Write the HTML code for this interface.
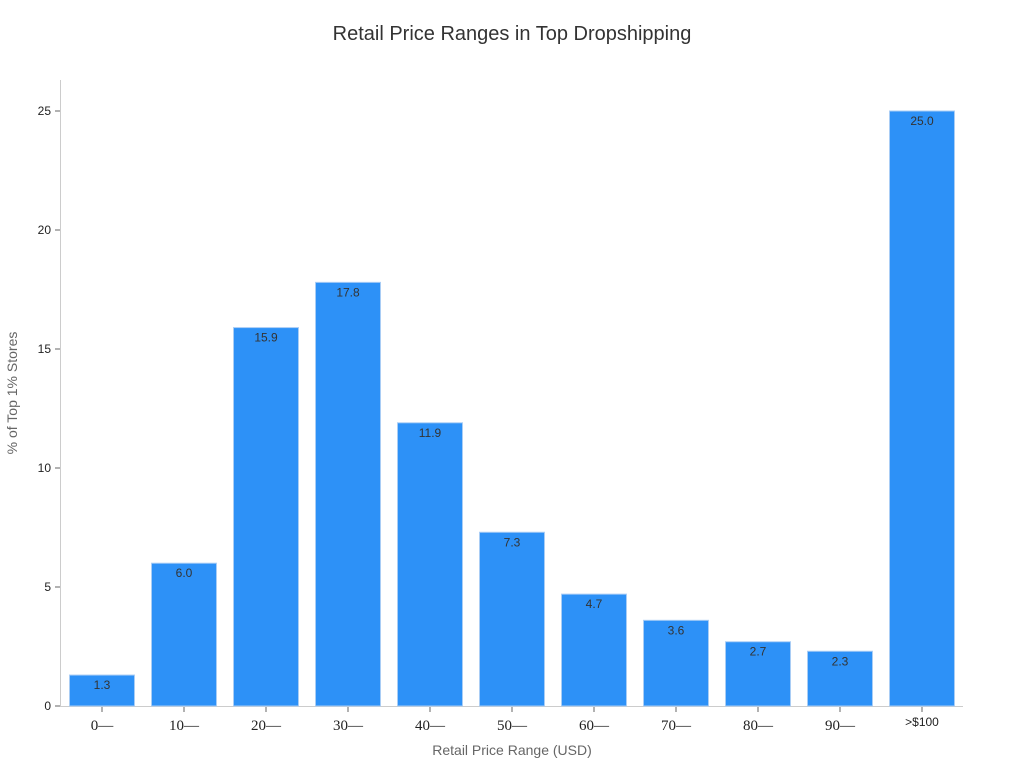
<!DOCTYPE html>
<html><head><meta charset="utf-8"><style>
body{margin:0;background:#fff;}
svg text{font-family:"Liberation Sans","DejaVu Sans",sans-serif;}
</style></head><body>
<svg id="chart" width="1024" height="768" xmlns="http://www.w3.org/2000/svg">
<text x="512" y="40" text-anchor="middle" font-size="20" fill="#333">Retail Price Ranges in Top Dropshipping</text>
<text x="512" y="755" text-anchor="middle" font-size="14" fill="#666">Retail Price Range (USD)</text>
<text transform="translate(17,393) rotate(-90)" text-anchor="middle" font-size="14" fill="#666">% of Top 1% Stores</text>
<line x1="60.5" y1="80" x2="60.5" y2="706" stroke="#ccc"/>
<line x1="60" y1="706.5" x2="963" y2="706.5" stroke="#ccc"/>
<g id="bars"></g>
</svg>
<script>
const categories=["0\u2014","10\u2014","20\u2014","30\u2014","40\u2014","50\u2014","60\u2014","70\u2014","80\u2014","90\u2014",">$100"];
const values=[1.3,6.0,15.9,17.8,11.9,7.3,4.7,3.6,2.7,2.3,25.0];
const yTicks=[0,5,10,15,20,25];
const svg=document.getElementById('chart');
const g=document.getElementById('bars');
const NS='http://www.w3.org/2000/svg';
const y0=706,pxPerUnit=(706-111)/25;
const yScale=v=>y0-v*pxPerUnit;
const xStart=61,band=82,barW=65;
const xCenter=i=>xStart+band*i+band/2;
function mk(tag,attrs){const e=document.createElementNS(NS,tag);for(const k in attrs)e.setAttribute(k,attrs[k]);return e;}
yTicks.forEach(t=>{
  const y=yScale(t);
  const l=mk('line',{x1:55,x2:60,y1:y,y2:y,stroke:'#666'});
  
  
  svg.appendChild(l);
  const tx=mk('text',{x:51,y:y+4,'text-anchor':'end','font-size':12,fill:'#222'});
  
  
  tx.textContent=t;svg.appendChild(tx);
});
categories.forEach((c,i)=>{
  const cx=xCenter(i),v=values[i],top=yScale(v);
  const r=mk('rect',{x:cx-barW/2,y:top,width:barW,height:y0-top,fill:'#2d91f7',stroke:'#a9cdf5','stroke-width':1});
  
  
  g.appendChild(r);
  const vl=mk('text',{x:cx,y:top+14,'text-anchor':'middle','font-size':12,fill:'#333'});
  
  
  vl.textContent=v.toFixed(1);g.appendChild(vl);
  const tm=mk('line',{x1:cx,x2:cx,y1:707,y2:712,stroke:'#666'});
  
  
  svg.appendChild(tm);
  const last=(i===categories.length-1);
  const xl=mk('text',{x:cx,y:last?726:730,'text-anchor':'middle','font-size':last?12:15,fill:'#222'});
  if(!last)xl.setAttribute('style','font-family:"Liberation Serif","DejaVu Serif",serif');
  
  
  xl.textContent=c;svg.appendChild(xl);
});
</script>
</body></html>
